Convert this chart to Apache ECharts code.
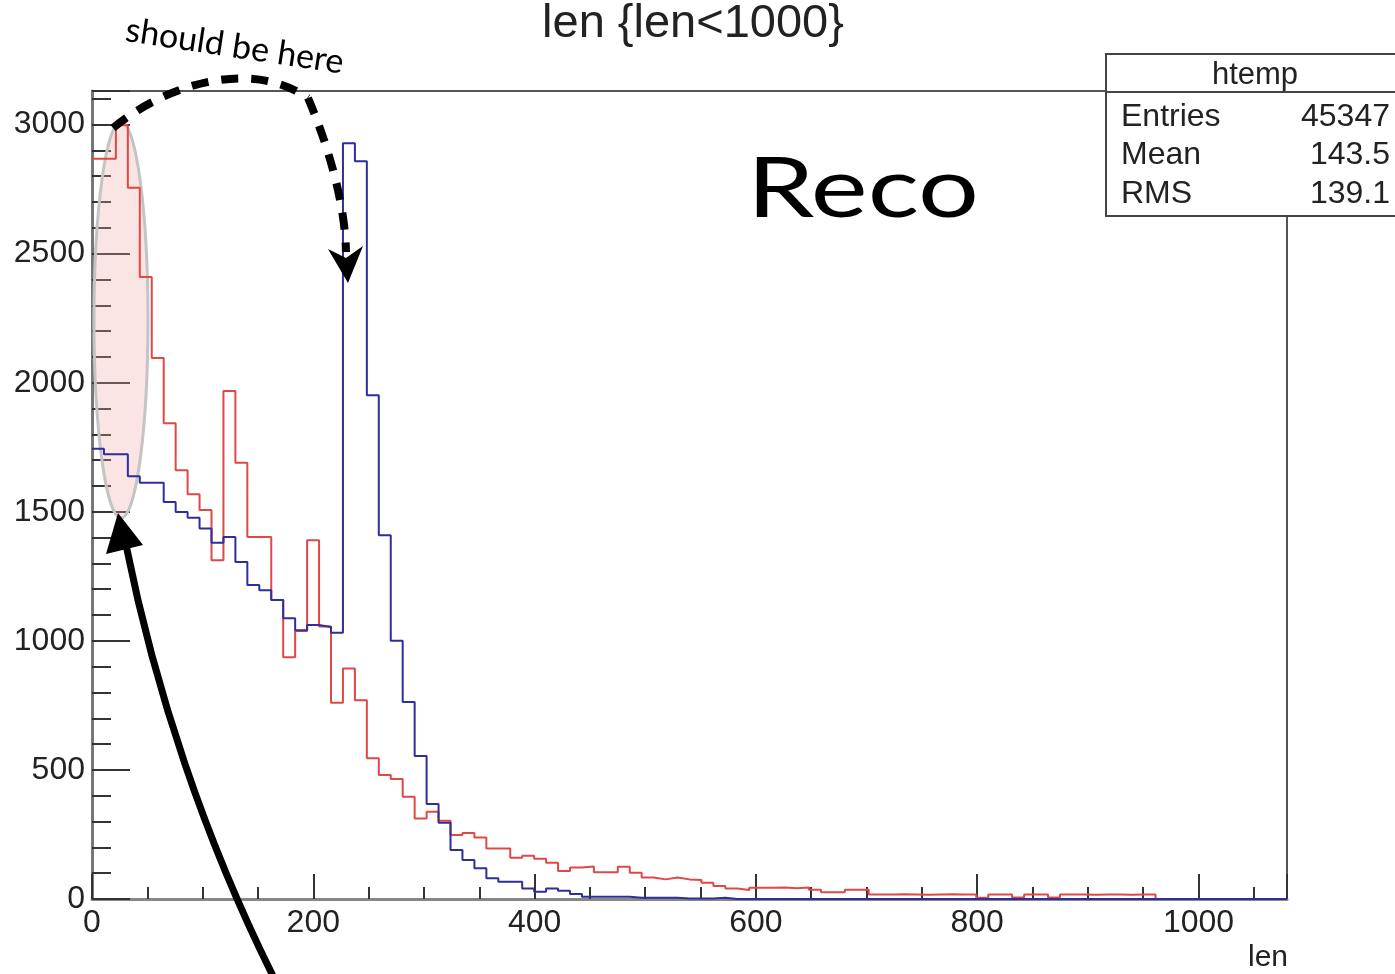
<!DOCTYPE html>
<html>
<head>
<meta charset="utf-8">
<title>len {len<1000}</title>
<script src="https://cdn.jsdelivr.net/npm/echarts@6/dist/echarts.min.js"></script>
<style>
    html, body {
        margin: 0;
        padding: 0;
        background: #fff;
    }
    #chart {
        width: 1395px;
        height: 974px;
    }
</style>
</head>
<body>
<div id="chart"></div>
<script>
// 100 bins of 10.8 between 0 and 1080 (ROOT htemp binning)
const binWidth = 10.8
const xMax = 1080
const yMax = 3130

// red histogram, counts per bin
const redCounts = [
    2868, 2868, 2997, 2755, 2409, 2096, 1843, 1661, 1568, 1507,
    1312, 1968, 1690, 1402, 1402, 1158, 936, 1038, 1390, 1056,
    760, 893, 770, 545, 480, 465, 396, 312, 338, 303,
    248, 256, 238, 196, 196, 160, 168, 156, 140, 108,
    122, 126, 104, 104, 125, 102, 83, 76, 83, 76,
    74, 63, 50, 41, 35, 44, 44, 45, 42, 45,
    36, 26, 26, 36, 36, 17, 17, 18, 17, 16,
    17, 18, 17, 17, 5, 17, 17, 6, 17, 17,
    6, 17, 17, 16, 17, 17, 16, 17, 17, 0,
    0, 0, 0, 0, 0, 0, 0, 0, 0, 0,
]

// blue histogram, counts per bin
const blueCounts = [
    1744, 1723, 1723, 1638, 1612, 1612, 1538, 1499, 1477, 1435,
    1380, 1402, 1305, 1216, 1196, 1158, 1088, 1041, 1061, 1054,
    1031, 2928, 2858, 1951, 1409, 1000, 763, 554, 368, 295,
    190, 151, 119, 80, 67, 67, 41, 28, 41, 32,
    19, 9, 9, 9, 9, 5, 5, 5, 5, 2,
    2, 2, 5, 0, 0, 0, 0, 0, 0, 0,
    0, 0, 0, 0, 0, 0, 0, 0, 0, 0,
    0, 0, 0, 0, 0, 0, 0, 0, 0, 0,
    0, 0, 0, 0, 0, 0, 0, 0, 0, 0,
    0, 0, 0, 0, 0, 0, 0, 0, 0, 0,
]

const statLabels = ['Entries', 'Mean', 'RMS']
const statValues = ['45347', '143.5', '139.1']

// [lowEdge, count] pairs plus the closing edge, drawn as a step line
function toSteps(counts) {
    const pts = counts.map((c, i) => [i * binWidth, c])
    pts.push([xMax, counts[counts.length - 1]])
    return pts
}

const rootFont = 'Liberation Sans, Arial, sans-serif'
const handFont = 'Lato, Open Sans, sans-serif'

const chart = echarts.init(document.getElementById('chart'))

const statsBox = [
    {
        type: 'rect',
        shape: { x: 1106, y: 54, width: 300, height: 162 },
        style: { fill: '#fff', stroke: '#444', lineWidth: 2 },
        z: 50,
    },
    {
        type: 'line',
        shape: { x1: 1106, y1: 92, x2: 1395, y2: 92 },
        style: { stroke: '#444', lineWidth: 2 },
        z: 51,
    },
    {
        type: 'text',
        x: 1255, y: 75,
        style: { text: 'htemp', fontSize: 31, fontFamily: rootFont, fill: '#222', textAlign: 'center', textVerticalAlign: 'middle' },
        z: 52,
    },
]
statLabels.forEach((lab, i) => {
    const y = 117 + i * 38.5
    statsBox.push({
        type: 'text', x: 1121, y: y,
        style: { text: lab, fontSize: 32, fontFamily: rootFont, fill: '#222', textVerticalAlign: 'middle' },
        z: 52,
    })
    statsBox.push({
        type: 'text', x: 1390, y: y,
        style: { text: statValues[i], fontSize: 32, fontFamily: rootFont, fill: '#222', textAlign: 'right', textVerticalAlign: 'middle' },
        z: 52,
    })
})

// hand-drawn annotations on top of the plot
const notes = [
    {
        type: 'ellipse',
        shape: { cx: 121, cy: 320, rx: 27, ry: 198 },
        style: { fill: 'rgba(240, 170, 165, 0.3)', stroke: '#c4c4c4', lineWidth: 3 },
        z: 1,
    },
    {
        type: 'bezierCurve',
        shape: { x1: 113, y1: 128, cpx1: 165, cpy1: 85, cpx2: 250, cpy2: 58, x2: 308, y2: 98 },
        style: { stroke: '#000', lineWidth: 8, lineDash: [17, 13], fill: null },
        z: 60,
    },
    {
        type: 'bezierCurve',
        shape: { x1: 308, y1: 98, cpx1: 326, cpy1: 140, cpx2: 345, cpy2: 200, x2: 346, y2: 252 },
        style: { stroke: '#000', lineWidth: 8, lineDash: [17, 13], fill: null },
        z: 60,
    },
    {
        type: 'polygon',
        shape: { points: [[328, 249], [346, 258], [363, 246], [348, 283]] },
        style: { fill: '#000' },
        z: 60,
    },
    {
        type: 'bezierCurve',
        shape: { x1: 274, y1: 978, cpx1: 205, cpy1: 840, cpx2: 155, cpy2: 690, x2: 126, y2: 545 },
        style: { stroke: '#000', lineWidth: 7, fill: null },
        z: 60,
    },
    {
        type: 'polygon',
        shape: { points: [[118, 513], [106, 554], [143, 545]] },
        style: { fill: '#000' },
        z: 60,
    },
    {
        type: 'text',
        x: 126, y: 30,
        rotation: -0.15,
        style: { text: 'should be here', fontSize: 34, fontFamily: handFont, fill: '#000', textVerticalAlign: 'middle' },
        z: 60,
    },
    {
        type: 'text',
        x: 747, y: 190,
        scaleX: 1.28,
        style: { text: 'Reco', fontSize: 84, fontFamily: handFont, fill: '#000', textVerticalAlign: 'middle' },
        z: 60,
    },
    {
        type: 'text',
        x: 1288, y: 958,
        style: { text: 'len', fontSize: 30, fontFamily: rootFont, fill: '#222', textAlign: 'right', textVerticalAlign: 'middle' },
        z: 60,
    },
]

const option = {
    animation: false,
    title: {
        text: 'len {len<1000}',
        left: 688,
        top: -4,
        textAlign: 'center',
        textStyle: { fontSize: 47, fontWeight: 'normal', fontFamily: rootFont, color: '#222' },
    },
    grid: {
        left: 92,
        top: 91,
        right: 108,
        bottom: 75,
        show: true,
        borderColor: '#555',
        borderWidth: 2,
        backgroundColor: 'transparent',
    },
    xAxis: [
        {
            type: 'value',
            min: 0,
            max: xMax,
            interval: 200,
            axisLine: { lineStyle: { color: '#888', width: 3 } },
            axisTick: { inside: true, length: 25, lineStyle: { color: '#333', width: 2 } },
            axisLabel: {
                fontSize: 32, fontFamily: rootFont, color: '#222', margin: 8,
                formatter: v => (v % 200 === 0 ? String(v) : ''),
            },
            splitLine: { show: false },
        },
        {
            // minor ticks every 50
            type: 'value',
            min: 0,
            max: xMax,
            interval: 50,
            position: 'bottom',
            axisLine: { show: false },
            axisTick: { inside: true, length: 12, lineStyle: { color: '#333', width: 2 } },
            axisLabel: { show: false },
            splitLine: { show: false },
        },
    ],
    yAxis: [
        {
            type: 'value',
            min: 0,
            max: yMax,
            interval: 500,
            axisLine: { show: true, lineStyle: { color: '#777', width: 3 } },
            axisTick: { show: true, inside: true, length: 38, lineStyle: { color: '#333', width: 2 } },
            axisLabel: {
                fontSize: 32, fontFamily: rootFont, color: '#222', margin: 7,
                formatter: v => (v % 500 === 0 ? String(v) : ''),
            },
            splitLine: { show: false },
        },
        {
            // minor ticks every 100
            type: 'value',
            min: 0,
            max: yMax,
            interval: 100,
            position: 'left',
            axisLine: { show: false },
            axisTick: { show: true, inside: true, length: 19, lineStyle: { color: '#333', width: 2 } },
            axisLabel: { show: false },
            splitLine: { show: false },
        },
    ],
    series: [
        {
            name: 'red',
            type: 'line',
            step: 'end',
            showSymbol: false,
            data: toSteps(redCounts),
            lineStyle: { color: '#e04848', width: 2 },
            z: 3,
        },
        {
            name: 'blue',
            type: 'line',
            step: 'end',
            showSymbol: false,
            data: toSteps(blueCounts),
            lineStyle: { color: '#2e2e9c', width: 2 },
            z: 4,
        },
    ],
    graphic: { elements: statsBox.concat(notes) },
}

chart.setOption(option)
</script>
</body>
</html>
